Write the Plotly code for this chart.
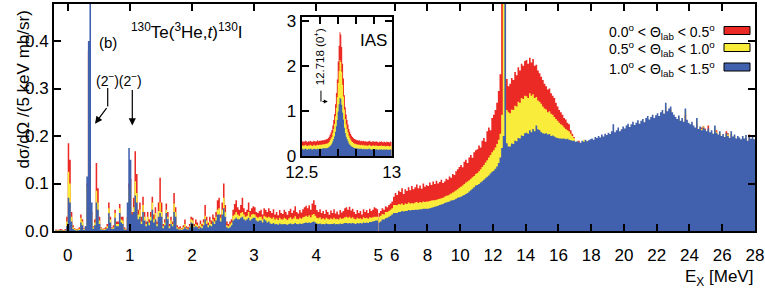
import numpy as np
import plotly.graph_objects as go

# ---------------- data ----------------
# cross sections in units of 1e-3 mb/sr (per bin), three angle cuts
lo_edges = np.round(np.arange(-0.2, 5.0 + 1e-9, 0.025), 4)   # MeV
red_lo = [3,2,3,4,3,2,4,30,
          185,150,40,12,6,4,5,8,
          35,25,6,10,100,380,380,40,
          10,25,143,90,30,8,5,6,
          8,15,60,30,8,12,45,20,
          20,57,30,30,8,5,30,100,
          110,40,70,168,120,45,60,30,
          72,40,20,40,25,40,72,35,
          50,20,60,112,60,15,25,58,
          40,15,30,20,80,50,12,8,
          10,6,12,24,10,8,15,30,
          28,15,24,18,10,22,15,25,
          55,30,18,30,22,35,28,40,
          65,70,35,60,100,55,20,15,
          20,25,45,57,65,50,45,55,
          70,48,40,45,60,42,48,52,
          50,40,38,42,45,35,48,45,
          40,48,42,38,46,35,40,33,
          44,38,36,45,40,34,42,47,
          38,43,52,40,37,44,39,46,
          50,53,48,54,45,58,65,55,
          44,40,46,38,42,36,45,40,
          34,43,38,46,37,41,35,44,
          39,42,48,50,45,51,43,47,
          40,36,44,38,42,35,46,40,
          44,38,47,42,45,50,48,46]
yel_lo = [2,1,2,2,2,1,2,20,
          125,100,30,8,4,3,3,5,
          28,20,4,8,95,370,380,35,
          8,18,85,60,22,6,3,4,
          5,10,48,24,6,8,38,15,
          15,48,24,22,5,3,25,90,
          95,30,50,105,80,35,45,20,
          55,30,15,30,18,30,60,25,
          38,15,42,60,40,10,18,45,
          30,10,22,15,58,40,8,5,
          6,4,8,15,6,5,10,25,
          22,10,15,12,6,15,10,18,
          32,22,12,20,15,25,20,30,
          45,48,28,45,70,40,12,10,
          14,18,32,35,40,35,32,38,
          40,35,30,32,40,30,35,36,
          35,30,28,30,30,25,32,30,
          28,30,28,26,29,24,27,23,
          28,25,24,28,26,23,27,29,
          25,27,31,26,25,28,26,29,
          30,32,30,33,29,34,36,32,
          28,27,29,25,27,24,28,26,
          24,27,25,28,25,26,24,28,
          26,27,29,30,28,30,27,29,
          26,25,28,26,27,25,29,27,
          28,26,29,28,29,30,30,30]
blu_lo = [1,0,1,1,1,0,1,10,
          70,60,20,4,2,1,1,2,
          18,12,2,10,115,400,500,60,
          5,12,60,45,15,3,2,2,
          3,6,38,18,4,5,28,10,
          10,38,18,15,3,2,60,175,
          150,35,40,75,60,25,30,15,
          40,22,10,20,12,22,45,18,
          25,10,30,38,30,6,12,38,
          25,6,15,10,40,30,5,3,
          3,2,4,8,4,3,8,18,
          16,8,10,8,5,8,6,12,
          25,15,8,12,10,20,15,22,
          35,35,20,35,48,30,8,6,
          8,12,22,25,28,25,25,28,
          30,25,22,25,28,22,25,28,
          28,22,20,22,22,18,25,22,
          18,20,16,15,17,14,15,13,
          16,14,14,15,14,13,15,16,
          14,15,17,15,14,16,15,16,
          17,18,17,18,17,19,20,18,
          16,15,16,14,15,14,16,15,
          14,15,15,16,14,15,14,16,
          15,16,17,17,16,17,16,17,
          16,15,17,16,17,16,18,17,
          18,17,19,19,20,21,22,22]

hi_edges = np.round(np.arange(5.0, 28.0 + 1e-9, 0.1), 4)     # MeV
red_hi = [38,42,48,45,52,50,55,58,62,72,
          80,76,85,82,90,78,88,84,92,86,
          95,88,92,98,90,96,89,100,93,97,
          95,102,97,104,99,106,100,103,108,101,
          104,110,108,115,112,120,118,126,130,135,
          139,134,146,150,143,155,160,154,166,170,
          172,180,176,190,196,188,210,218,212,238,
          245,255,270,295,330,500,500,500,320,305,
          310,322,318,335,328,345,338,352,348,358,
          360,352,365,355,362,348,350,338,332,325,
          318,310,305,298,300,290,285,280,270,262,
          255,250,245,238,235,228,225,212,205,198,
          185,186,190,180,185,183,189,186,188,187,
          188,186,190,189,193,190,195,192,197,195,
          200,198,203,205,200,205,210,203,207,212,
          208,214,218,212,217,222,215,220,225,218,
          224,228,222,230,234,228,232,237,230,236,
          240,235,242,247,240,255,245,250,254,243,
          237,233,229,236,225,231,223,245,227,221,
          218,222,215,211,226,208,214,218,221,216,
          204,222,201,205,199,212,212,196,203,194,
          198,192,210,206,190,203,193,196,189,194,
          191,187,193,189,195,184,203,188,192,187]
yel_hi = [30,32,36,35,40,40,42,45,48,55,
          55,54,57,56,58,55,58,57,60,58,
          59,58,60,61,59,61,60,62,61,62,
          62,63,64,65,65,66,67,68,69,70,
          72,74,75,77,79,81,83,86,88,91,
          93,96,99,102,104,107,110,113,116,120,
          122,126,130,135,139,144,149,155,160,166,
          170,176,183,192,205,245,500,500,255,250,
          248,256,255,264,262,272,270,280,278,285,
          284,280,290,285,288,280,282,275,272,268,
          262,258,256,250,252,247,245,240,236,232,
          228,225,222,218,215,212,210,205,200,196,
          184,190,182,184,186,192,186,190,185,188,
          190,188,193,191,196,193,198,195,200,198,
          203,200,206,209,203,208,213,206,210,215,
          211,217,221,214,220,225,218,223,228,221,
          227,231,225,233,237,231,235,240,233,239,
          243,238,245,250,243,262,248,253,257,246,
          240,235,232,239,228,234,226,252,230,224,
          221,226,218,214,232,212,217,215,220,212,
          207,213,205,209,202,217,209,200,207,197,
          201,195,204,203,193,207,196,200,192,197,
          194,190,197,192,199,187,200,191,196,190]
blu_hi = [18,20,24,24,27,28,30,32,35,38,
          38,38,40,40,42,41,42,42,44,43,
          44,44,45,45,45,46,46,47,47,47,
          47,48,49,50,51,52,53,55,56,57,
          59,60,61,62,64,65,66,68,70,71,
          72,74,76,78,80,83,86,89,92,96,
          97,99,102,105,108,111,114,117,121,125,
          127,131,136,143,155,175,200,500,185,178,
          178,184,183,190,189,196,195,201,200,206,
          207,205,212,208,215,210,222,214,212,208,
          206,205,206,203,204,200,201,199,197,196,
          195,195,194,195,193,194,192,191,190,190,
          188,189,187,186,190,188,192,189,191,193,
          195,192,198,196,200,197,203,199,205,202,
          207,204,210,225,208,212,218,210,214,220,
          216,222,226,219,225,230,223,228,233,226,
          232,236,229,238,242,235,240,245,238,244,
          248,242,250,255,247,270,252,258,262,250,
          245,240,236,243,232,238,230,258,234,228,
          225,230,222,218,238,215,220,212,218,214,
          210,216,208,212,205,222,207,203,210,200,
          204,198,206,200,196,210,199,203,195,200,
          197,193,200,195,202,190,198,194,199,193]

# inset (IAS region), 5 keV bins, units of 1e-2 mb/sr
ias_edges = np.round(np.arange(12.5, 13.0 + 1e-9, 0.005), 4)
red_ias = [32,33,31,33,34,32,31,33,32,34,33,31,32,34,33,32,33,35,33,34,
           34,34,35,35,35,36,36,37,38,40,43,47,52,58,68,80,93,115,140,170,
           210,245,275,270,242,205,172,135,108,92,80,70,60,54,49,45,42,40,38,37,
           36,35,35,34,35,33,34,33,34,32,33,33,31,32,33,34,32,31,32,33,
           32,31,33,32,31,30,32,31,33,31,30,32,31,30,32,31,31,30,32,31]
yel_ias = [23,24,22,24,25,23,22,24,23,25,24,22,23,25,24,23,24,25,24,25,
           25,25,25,26,26,26,27,27,28,29,31,35,39,43,51,60,71,88,107,131,
           162,189,213,209,187,158,132,103,82,70,60,53,45,40,36,33,31,29,28,27,
           26,26,25,25,25,24,25,24,25,23,24,24,23,23,24,25,23,22,23,24,
           23,22,24,23,22,22,23,22,24,22,22,23,22,21,23,22,22,21,23,22]
blu_ias = [15,16,14,16,16,15,14,16,15,16,16,14,15,16,16,15,15,16,15,16,
           16,16,16,17,17,17,17,17,18,19,20,22,24,27,32,38,44,54,66,80,
           99,115,129,127,114,96,81,63,51,43,38,33,28,25,23,21,20,19,18,17,
           17,17,16,16,16,16,16,15,16,15,15,16,15,15,16,16,15,14,15,15,
           15,14,15,15,14,14,15,14,15,14,14,15,14,14,15,14,14,14,15,14]

x_ticks_lo = [0, 1, 2, 3, 4, 5]
x_ticks_hi = [6, 8, 10, 12, 14, 16, 18, 20, 22, 24, 26, 28]
y_ticks = [0.0, 0.1, 0.2, 0.3, 0.4]
ias_xticks = [12.5, 12.6, 12.7, 12.8, 12.9, 13.0]
ias_xlabels = ["12.5", "", "", "", "", "13"]
ias_yticks = [0, 1, 2, 3]
legend_labels = ["0.0<sup>o</sup> < \u0398<sub>lab</sub> < 0.5<sup>o</sup>",
                 "0.5<sup>o</sup> < \u0398<sub>lab</sub> < 1.0<sup>o</sup>",
                 "1.0<sup>o</sup> < \u0398<sub>lab</sub> < 1.5<sup>o</sup>"]

for e, arrs in ((lo_edges, (red_lo, yel_lo, blu_lo)), (hi_edges, (red_hi, yel_hi, blu_hi)),
                (ias_edges, (red_ias, yel_ias, blu_ias))):
    for a in arrs:
        assert len(a) == len(e) - 1, (len(a), len(e))

RED, YEL, BLU = "#EC2A25", "#F9EC3A", "#4161AF"
COLORS = [RED, YEL, BLU]
FONT = "Liberation Sans, Arial, Helvetica, sans-serif"


def step(edges, vals, scale, color, xa, ya):
    y = [v * scale for v in vals]
    return go.Scatter(x=list(edges), y=y + [y[-1]], mode="lines",
                      line=dict(shape="hv", width=0, color=color),
                      fill="tozeroy", fillcolor=color, xaxis=xa, yaxis=ya,
                      hoverinfo="skip", showlegend=False)


fig = go.Figure()
for vals, c in zip((red_lo, yel_lo, blu_lo), COLORS):
    fig.add_trace(step(lo_edges, vals, 1e-3, c, "x", "y"))
for vals, c in zip((red_hi, yel_hi, blu_hi), COLORS):
    fig.add_trace(step(hi_edges, vals, 1e-3, c, "x2", "y2"))
for vals, c in zip((red_ias, yel_ias, blu_ias), COLORS):
    fig.add_trace(step(ias_edges, vals, 1e-2, c, "x3", "y3"))

# geometry (plot area: px 54..755 horizontally, 4..231 vertically)
L, R, T, B = 54, 10, 4, 63
W, H = 765 - L - R, 294 - T - B
split = (378.3 - L) / W
px = lambda p: (p - L) / W
py = lambda p: (231 - p) / H

axis_common = dict(ticks="inside", ticklen=7, tickwidth=2, tickcolor="black",
                   showline=True, linewidth=2, linecolor="black",
                   showgrid=False, zeroline=False, automargin=False,
                   tickfont=dict(size=17, color="black", family=FONT))

fig.update_layout(
    width=765, height=294, margin=dict(l=L, r=R, t=T, b=B, autoexpand=False),
    plot_bgcolor="white", paper_bgcolor="white", showlegend=False,
    font=dict(family=FONT, color="black"),
    xaxis=dict(domain=[0, split], range=[-0.2205, 5.0], tickvals=x_ticks_lo,
               mirror="ticks", anchor="y", ticklabelstandoff=8, **axis_common),
    xaxis2=dict(domain=[split, 1], range=[5.0, 28.0], tickvals=x_ticks_hi,
                mirror="ticks", anchor="y2", ticklabelstandoff=8, **axis_common),
    yaxis=dict(domain=[0, 1], range=[0, 0.478], tickvals=y_ticks, tickformat=".1f",
               anchor="x", mirror=False, **axis_common),
    yaxis2=dict(domain=[0, 1], range=[0, 0.478], tickvals=y_ticks, matches="y",
                anchor="x2", side="right", showticklabels=False, mirror=False,
                **axis_common),
    xaxis3=dict(domain=[px(301.7), px(391.7)], range=[12.5, 13.0],
                tickvals=ias_xticks, ticktext=ias_xlabels, anchor="y3",
                mirror="ticks", **axis_common),
    yaxis3=dict(domain=[py(156), py(17.3)], range=[0, 3.08], tickvals=ias_yticks,
                anchor="x3", mirror="ticks", **axis_common),
)

ann = []
# titles and labels
ann.append(dict(text="d\u03c3/d\u03a9 /(5 keV mb/sr)", x=px(12), y=py(90), xref="paper",
                yref="paper", textangle=-90, showarrow=False, font=dict(size=17)))
ann.append(dict(text="E<sub>X</sub> [MeV]", x=1.0, y=py(278), xref="paper", yref="paper",
                xanchor="right", yanchor="middle", showarrow=False, font=dict(size=17)))
ann.append(dict(text="(b)", x=px(96.7), y=py(32), xref="paper", yref="paper",
                showarrow=False, font=dict(size=15)))
ann.append(dict(text="<sup>130</sup>Te(<sup>3</sup>He,<i>t</i>)<sup>130</sup>I",
                x=px(129), y=py(31), xref="paper", yref="paper", xanchor="left",
                yanchor="middle", showarrow=False, font=dict(size=17)))
# (2-) labels and arrows
ann.append(dict(text="(2<sup>\u2212</sup>)(2<sup>\u2212</sup>)", x=0.82, y=0.318,
                xref="x", yref="y", showarrow=False, font=dict(size=14)))
ann.append(dict(text="", x=0.44, y=0.226, ax=0.644, ay=0.262, xref="x", yref="y",
                axref="x", ayref="y", showarrow=True, arrowhead=2, arrowsize=1.2,
                arrowwidth=1.2, arrowcolor="black"))
ann.append(dict(text="", x=1.04, y=0.222, ax=1.04, ay=0.300, xref="x", yref="y",
                axref="x", ayref="y", showarrow=True, arrowhead=2, arrowsize=1.2,
                arrowwidth=1.2, arrowcolor="black"))
# inset labels
ann.append(dict(text="IAS", x=12.9, y=2.57, xref="x3", yref="y3", showarrow=False,
                font=dict(size=17)))
ann.append(dict(text="12.718 (0<sup>+</sup>)", x=12.598, y=2.2, xref="x3", yref="y3",
                textangle=-90, showarrow=False, font=dict(size=11.5)))
ann.append(dict(text="", x=12.645, y=1.21, ax=12.607, ay=1.21, xref="x3", yref="y3",
                axref="x3", ayref="y3", showarrow=True, arrowhead=2, arrowsize=0.8,
                arrowwidth=1, arrowcolor="black"))
# legend
rows = [30.5, 47.5, 67]
for lab, c, r in zip(legend_labels, COLORS, rows):
    ann.append(dict(text=lab, x=px(717), y=py(r + 1.5), xref="paper", yref="paper",
                    xanchor="right", yanchor="middle", showarrow=False,
                    font=dict(size=14)))
fig.update_layout(annotations=ann)

shapes = [dict(type="line", x0=0.644, x1=0.644, y0=0.301, y1=0.262, xref="x", yref="y",
               line=dict(color="black", width=1.2)),
          dict(type="line", x0=12.607, x1=12.607, y0=1.45, y1=1.21, xref="x3", yref="y3",
               line=dict(color="black", width=1))]
for c, r in zip(COLORS, rows):
    shapes.append(dict(type="rect", x0=px(724), x1=px(750), y0=py(r - 4), y1=py(r + 4),
                       xref="paper", yref="paper", fillcolor=c,
                       line=dict(color="black", width=1)))
fig.update_layout(shapes=shapes)

fig.write_html("out.html", config={"displayModeBar": False, "staticPlot": True},
               post_script="document.body.style.margin='0';document.body.style.padding='0';")
